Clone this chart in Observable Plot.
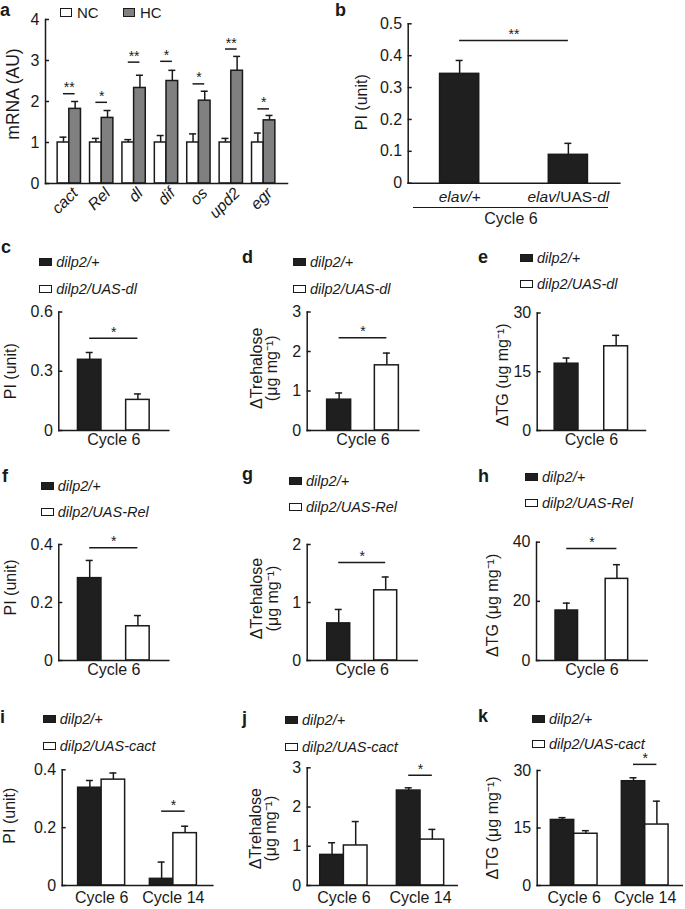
<!DOCTYPE html>
<html><head><meta charset="utf-8">
<script src="https://cdn.jsdelivr.net/npm/d3@7"></script>
<script src="https://cdn.jsdelivr.net/npm/@observablehq/plot@0.6"></script>
<style>
html,body{margin:0;padding:0;background:#fff;}
#fig{position:relative;width:685px;height:909px;font-family:"Liberation Sans",Arial,Helvetica,sans-serif;color:#1a1a1a;overflow:hidden;background:#fff;}
#fig svg{position:absolute;}
.letter{position:absolute;font-weight:bold;font-size:18px;line-height:18px;}
.leg{position:absolute;display:flex;align-items:center;height:18px;font-size:14.5px;font-style:italic;white-space:nowrap;}
.sw{display:inline-block;width:13px;height:8px;box-sizing:border-box;border:1.5px solid #1a1a1a;margin-right:4px;}
.lega{position:absolute;display:flex;align-items:center;height:18px;font-size:15px;white-space:nowrap;}
.swa{display:inline-block;width:12px;height:9px;box-sizing:border-box;border:1.5px solid #1a1a1a;margin-right:5px;}
</style></head><body><div id="fig"></div>
<script>
// ---------- data ----------
// panel a
const genes = ["cact", "Rel", "dl", "dif", "os", "upd2", "egr"];
const ncMean = [1, 1, 1, 1, 1, 1, 1];
const ncErr = [0.13, 0.10, 0.07, 0.17, 0.21, 0.10, 0.23];
const hcMean = [1.82, 1.60, 2.33, 2.50, 2.02, 2.75, 1.54];
const hcErr = [0.18, 0.18, 0.31, 0.26, 0.23, 0.35, 0.12];
const aSigY = [2.19, 1.98, 2.96, 2.98, 2.43, 3.28, 1.82];
const aSigLabel = ["**", "*", "**", "*", "*", "**", "*"];
// panel b
const bGenotypes = ["elav/+", "elav/UAS-dl"];
const bMean = [0.343, 0.089];
const bErr = [0.042, 0.036];
// series names
const namesDl = ["dilp2/+", "dilp2/UAS-dl"];
const namesRel = ["dilp2/+", "dilp2/UAS-Rel"];
const namesCact = ["dilp2/+", "dilp2/UAS-cact"];
const cycles6 = ["Cycle 6"];
const cycles614 = ["Cycle 6", "Cycle 14"];
// c: PI, dl
const cCtrl = [0.358], cCtrlErr = [0.037], cOe = [0.155], cOeErr = [0.030];
// d: trehalose, dl
const dCtrl = [0.78], dCtrlErr = [0.17], dOe = [1.65], dOeErr = [0.31];
// e: TG, dl
const eCtrl = [17.05], eCtrlErr = [1.45], eOe = [21.5], eOeErr = [2.8];
// f: PI, Rel
const fCtrl = [0.284], fCtrlErr = [0.061], fOe = [0.118], fOeErr = [0.037];
// g: trehalose, Rel
const gCtrl = [0.64], gCtrlErr = [0.24], gOe = [1.21], gOeErr = [0.23];
// h: TG, Rel
const hCtrl = [16.9], hCtrlErr = [2.5], hOe = [27.6], hOeErr = [4.8];
// i: PI, cact
const iCtrl = [0.338, 0.023], iCtrlErr = [0.025, 0.058], iOe = [0.366, 0.181], iOeErr = [0.023, 0.024];
// j: trehalose, cact
const jCtrl = [0.78, 2.42], jCtrlErr = [0.31, 0.07], jOe = [1.02, 1.17], jOeErr = [0.61, 0.26];
// k: TG, cact
const kCtrl = [17.1, 27.2], kCtrlErr = [0.6, 0.9], kOe = [13.5, 15.9], kOeErr = [0.8, 6.1];
// tick values
const aTicks = [0, 1, 2, 3, 4];
const bTicks = [0, 0.1, 0.2, 0.3, 0.4, 0.5];
const piTicks06 = [0, 0.3, 0.6];
const piTicks04 = [0, 0.2, 0.4];
const treTicks3 = [0, 1, 2, 3];
const treTicks2 = [0, 1, 2];
const tgTicks30 = [0, 15, 30];
const tgTicks40 = [0, 20, 40];

// ---------- drawing ----------
const fig = document.getElementById("fig");
const FONT = '"Liberation Sans", Arial, Helvetica, sans-serif';
const INK = "#1a1a1a";
const BLACK = "#1f1f1f";
const WHITE = "#ffffff";
const GREY = "#808080";
const SW = 1.5;

function panel(cfg) {
  const {box, frame, groups, series, pi, po, barW, yDomain, yTicks, sig = [], ylabel, ylabelDx, ylabelDy = 0, ylabelSize = 16, xTick} = cfg;
  const [bl, bt, bwid, bh] = box;
  const [fl, ft, fr, fb] = frame;
  const marginLeft = fl - bl, marginTop = ft - bt, marginRight = bl + bwid - fr, marginBottom = bt + bh - fb;
  const n = groups.length;
  const step = (fr - fl) / (n - pi + 2 * po);
  const band = step * (1 - pi);
  const w = barW ?? band / series.length;
  const cap = 7;
  const marks = [];
  series.forEach((s, k) => {
    const rows = groups.map((g, i) => ({group: g, v: s.values[i], e: s.errs[i]}));
    const c = series.length === 1 ? band / 2 : (k === 0 ? w / 2 : band - w / 2);
    marks.push(
      Plot.ruleX(rows, {x: "group", y1: "v", y2: d => d.v + d.e, dx: c - band / 2, stroke: INK, strokeWidth: SW}),
      Plot.tickY(rows, {x: "group", y: d => d.v + d.e, insetLeft: c - cap / 2, insetRight: band - c - cap / 2, stroke: INK, strokeWidth: SW}),
      Plot.barY(rows, {x: "group", y: "v", fill: s.fill, stroke: INK, strokeWidth: SW, insetLeft: c - w / 2, insetRight: band - c - w / 2})
    );
  });
  sig.forEach(sg => {
    if (sg.x1 === sg.x2) {
      marks.push(Plot.tickY([sg], {x: "x1", y: "y", insetLeft: w / 2, insetRight: w / 2, stroke: INK, strokeWidth: SW}));
      marks.push(Plot.text([sg], {x: "x1", y: "y", text: "label", dy: -6, fontSize: 14, fill: INK}));
    } else {
      const i1 = groups.indexOf(sg.x1), i2 = groups.indexOf(sg.x2);
      const c1 = step * po + step * i1 + band / 2, c2 = step * po + step * i2 + band / 2;
      marks.push(Plot.ruleY([sg], {y: "y", insetLeft: c1, insetRight: (fr - fl) - c2, stroke: INK, strokeWidth: SW}));
      marks.push(Plot.text([sg], {y: "y", text: "label", dy: -6, fontSize: 14, fill: INK}));
    }
  });
  marks.push(
    Plot.frame({anchor: "left", stroke: INK, strokeWidth: SW}),
    Plot.frame({anchor: "bottom", stroke: INK, strokeWidth: SW}),
    Plot.axisY({ticks: yTicks, tickFormat: d => String(d), tickSize: -4, tickPadding: 10, fontSize: 16, label: null, strokeWidth: SW}),
    Plot.axisX({tickSize: 0, tickPadding: xTick.padding, fontSize: xTick.fontSize, fontStyle: xTick.italic ? "italic" : "normal",
      tickRotate: xTick.rotate || 0, dx: xTick.dx || 0, dy: xTick.dy || 0, label: null}),
    Plot.text([ylabel], {text: d => d, frameAnchor: "left", textAnchor: "middle", rotate: -90, dx: ylabelDx, dy: ylabelDy, fontSize: ylabelSize, lineHeight: 0.95, fill: INK})
  );
  const svg = Plot.plot({
    width: bwid, height: bh, marginLeft, marginRight, marginTop, marginBottom,
    x: {type: "band", domain: groups, paddingInner: pi, paddingOuter: po, round: false},
    y: {domain: yDomain},
    style: {fontFamily: FONT, fontSize: "15px", color: INK, background: "transparent", overflow: "visible"},
    marks
  });
  svg.style.left = bl + "px";
  svg.style.top = bt + "px";
  fig.append(svg);
  return svg;
}

function letter(ch, x, baseline) {
  const d = document.createElement("div");
  d.className = "letter";
  d.textContent = ch;
  d.style.left = x + "px";
  d.style.top = (baseline - 15.2) + "px";
  fig.append(d);
}

function legend(x, ys, names, fills) {
  names.forEach((nm, i) => {
    const d = document.createElement("div");
    d.className = "leg";
    d.style.left = x + "px";
    d.style.top = (ys[i] - 9) + "px";
    const s = document.createElement("span");
    s.className = "sw";
    s.style.background = fills[i];
    d.append(s, document.createTextNode(nm));
    fig.append(d);
  });
}

const twoFills = [BLACK, WHITE];
const sig1 = (g, y) => [{x1: g, x2: g, y, label: "*"}];
const trehLabel = "\u0394Trehalose\n(\u03bcg mg\u207b\u00b9)";
const tgLabel = "\u0394TG (\u03bcg mg\u207b\u00b9)";

// panel a
panel({
  box: [0, 0, 300, 230], frame: [45, 19, 287, 183], groups: genes,
  series: [{values: ncMean, errs: ncErr, fill: WHITE}, {values: hcMean, errs: hcErr, fill: GREY}],
  pi: 0.28, po: 0.375, yDomain: [0, 4], yTicks: aTicks,
  sig: genes.map((g, i) => ({x1: g, x2: g, y: aSigY[i], label: aSigLabel[i]})),
  ylabel: "mRNA (AU)", ylabelDx: -32, ylabelDy: -7.5, ylabelSize: 17.5,
  xTick: {fontSize: 16, italic: true, rotate: -45, padding: 4, dx: 6, dy: 3}
});
// legend a
[["NC", WHITE, 60], ["HC", GREY, 123]].forEach(([t, f, x]) => {
  const d = document.createElement("div");
  d.className = "lega";
  d.style.left = x + "px"; d.style.top = (12.5 - 9) + "px";
  const s = document.createElement("span"); s.className = "swa"; s.style.background = f;
  d.append(s, document.createTextNode(t));
  fig.append(d);
});

// panel b
const svgB = panel({
  box: [330, 0, 300, 195], frame: [407.7, 23.3, 619.3, 182.7], groups: bGenotypes,
  series: [{values: bMean, errs: bErr, fill: BLACK}],
  pi: 0.64, po: 0.293, yDomain: [0, 0.5], yTicks: bTicks,
  sig: [{x1: bGenotypes[0], x2: bGenotypes[1], y: 0.448, label: "**"}],
  ylabel: "PI (unit)", ylabelDx: -46, ylabelDy: -1.3,
  xTick: {fontSize: 15.5, italic: true, padding: 7.5}
});
// mixed italic/roman in the second genotype label
svgB.querySelectorAll("text").forEach(t => {
  if (t.textContent === "elav/UAS-dl") {
    t.textContent = "";
    [["elav", "italic"], ["/UAS-", "normal"], ["dl", "italic"]].forEach(([s, st]) => {
      const ts = document.createElementNS("http://www.w3.org/2000/svg", "tspan");
      ts.setAttribute("font-style", st);
      ts.textContent = s;
      t.append(ts);
    });
  }
});
{
  const ln = document.createElement("div");
  ln.style.cssText = "position:absolute;left:413px;top:206.5px;width:195px;height:0;border-top:1.5px solid #1a1a1a;";
  fig.append(ln);
  const t = document.createElement("div");
  t.style.cssText = "position:absolute;left:461px;top:210.5px;width:100px;text-align:center;font-size:16px;line-height:16px;";
  t.textContent = "Cycle 6";
  fig.append(t);
}

// row c-e
panel({box: [0, 295, 235, 165], frame: [58.3, 311.5, 168.3, 430], groups: cycles6,
  series: [{values: cCtrl, errs: cCtrlErr, fill: BLACK}, {values: cOe, errs: cOeErr, fill: WHITE}],
  pi: 0, po: 0.267, barW: 23.5, yDomain: [0, 0.6], yTicks: piTicks06, sig: sig1("Cycle 6", 0.467),
  ylabel: "PI (unit)", ylabelDx: -48, ylabelDy: 0, xTick: {fontSize: 16, padding: 3.5}});
panel({box: [235, 295, 225, 165], frame: [306.7, 311.5, 418.3, 430], groups: cycles6,
  series: [{values: dCtrl, errs: dCtrlErr, fill: BLACK}, {values: dOe, errs: dOeErr, fill: WHITE}],
  pi: 0, po: 0.278, barW: 24, yDomain: [0, 3], yTicks: treTicks3, sig: sig1("Cycle 6", 2.35),
  ylabel: trehLabel, ylabelDx: -42.7, ylabelDy: -3, xTick: {fontSize: 16, padding: 3.5}});
panel({box: [460, 295, 225, 165], frame: [536.7, 312.5, 645, 430], groups: cycles6,
  series: [{values: eCtrl, errs: eCtrlErr, fill: BLACK}, {values: eOe, errs: eOeErr, fill: WHITE}],
  pi: 0, po: 0.238, barW: 23.8, yDomain: [0, 30], yTicks: tgTicks30, sig: [],
  ylabel: "\u0394TG (ug mg\u207b\u00b9)", ylabelDx: -33.7, ylabelDy: 3, xTick: {fontSize: 16, padding: 3.5}});
letter("c", 1, 253); letter("d", 242, 263); letter("e", 478, 263);
legend(39.3, [261.5, 288.5], namesDl, twoFills);
legend(293, [261.5, 288.5], namesDl, twoFills);
legend(520, [257.5, 284], namesDl, twoFills);

// row f-h
panel({box: [0, 525, 235, 165], frame: [58.3, 544, 168.3, 660], groups: cycles6,
  series: [{values: fCtrl, errs: fCtrlErr, fill: BLACK}, {values: fOe, errs: fOeErr, fill: WHITE}],
  pi: 0, po: 0.267, barW: 23.5, yDomain: [0, 0.4], yTicks: piTicks04, sig: sig1("Cycle 6", 0.389),
  ylabel: "PI (unit)", ylabelDx: -48, ylabelDy: -15, xTick: {fontSize: 16, padding: 3.5}});
panel({box: [235, 525, 225, 165], frame: [306.7, 544, 416.7, 660], groups: cycles6,
  series: [{values: gCtrl, errs: gCtrlErr, fill: BLACK}, {values: gOe, errs: gOeErr, fill: WHITE}],
  pi: 0, po: 0.286, barW: 23, yDomain: [0, 2], yTicks: treTicks2, sig: sig1("Cycle 6", 1.69),
  ylabel: trehLabel, ylabelDx: -42, ylabelDy: -4, xTick: {fontSize: 16, padding: 3.5}});
panel({box: [460, 525, 225, 165], frame: [536, 541.7, 646.7, 660], groups: cycles6,
  series: [{values: hCtrl, errs: hCtrlErr, fill: BLACK}, {values: hOe, errs: hOeErr, fill: WHITE}],
  pi: 0, po: 0.262, barW: 22.5, yDomain: [0, 40], yTicks: tgTicks40, sig: sig1("Cycle 6", 37.9),
  ylabel: tgLabel, ylabelDx: -43, ylabelDy: 4, xTick: {fontSize: 16, padding: 3.5}});
letter("f", 2, 482); letter("g", 242, 480); letter("h", 478, 482);
legend(40.7, [485.5, 512], namesRel, twoFills);
legend(289, [480.5, 506.5], namesRel, twoFills);
legend(525, [476.5, 503], namesRel, twoFills);

// row i-k
panel({box: [0, 755, 235, 154], frame: [61.7, 769.3, 212.3, 885], groups: cycles614,
  series: [{values: iCtrl, errs: iCtrlErr, fill: BLACK}, {values: iOe, errs: iOeErr, fill: WHITE}],
  pi: 0.345, po: 0.222, yDomain: [0, 0.4], yTicks: piTicks04, sig: sig1("Cycle 14", 0.257),
  ylabel: "PI (unit)", ylabelDx: -51.7, ylabelDy: -12, xTick: {fontSize: 16, padding: 6.5}});
panel({box: [235, 755, 225, 154], frame: [306.7, 767.3, 456.7, 885], groups: cycles614,
  series: [{values: jCtrl, errs: jCtrlErr, fill: BLACK}, {values: jOe, errs: jOeErr, fill: WHITE}],
  pi: 0.383, po: 0.17, yDomain: [0, 3], yTicks: treTicks3, sig: sig1("Cycle 14", 2.81),
  ylabel: trehLabel, ylabelDx: -43.4, ylabelDy: 2, xTick: {fontSize: 16, padding: 6.5}});
panel({box: [460, 755, 225, 154], frame: [536.7, 770, 681.7, 885], groups: cycles614,
  series: [{values: kCtrl, errs: kCtrlErr, fill: BLACK}, {values: kOe, errs: kOeErr, fill: WHITE}],
  pi: 0.342, po: 0.192, yDomain: [0, 30], yTicks: tgTicks30, sig: sig1("Cycle 14", 31.6),
  ylabel: tgLabel, ylabelDx: -43.7, ylabelDy: 0, xTick: {fontSize: 16, padding: 6.5}});
letter("i", 0, 723); letter("j", 242, 724); letter("k", 478, 722);
legend(42.7, [718.5, 745.5], namesCact, twoFills);
legend(285, [719.5, 746.5], namesCact, twoFills);
legend(532, [718.5, 744], namesCact, twoFills);

letter("a", 0, 16); letter("b", 335, 16);
</script></body></html>
